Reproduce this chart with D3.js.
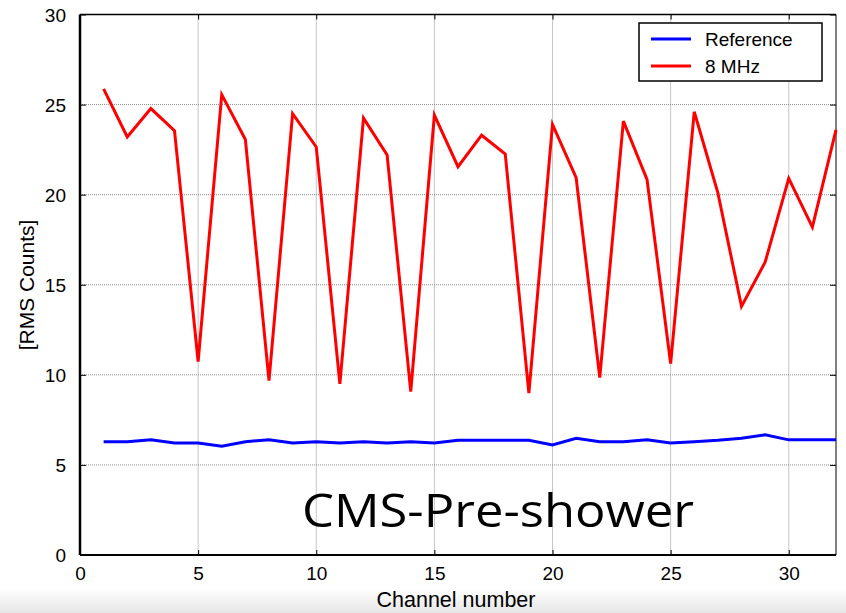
<!DOCTYPE html>
<html>
<head>
<meta charset="utf-8">
<script src="https://cdn.jsdelivr.net/npm/d3@7"></script>
<style>
  body { margin: 0; background: #fff; }
  svg { display: block; font-family: Arial, "Liberation Sans", sans-serif; }
  .grid line { stroke: #8c8c8c; stroke-dasharray: 1,1; stroke-width: 1; }
  .axis text { font-size: 19px; fill: #000; }
</style>
</head>
<body>
<div id="graph"></div>
<script>
// channel numbers and RMS counts
const channels = d3.range(1, 33);
const reference = [6.29, 6.29, 6.39, 6.22, 6.22, 6.04, 6.29, 6.39, 6.22, 6.29,
	6.22, 6.29, 6.22, 6.29, 6.22, 6.37, 6.37, 6.37, 6.37, 6.11,
	6.48, 6.29, 6.29, 6.39, 6.22, 6.29, 6.37, 6.48, 6.67, 6.39,
	6.39, 6.39];
const mhz8 = [25.87, 23.2, 24.78, 23.55, 10.74, 25.55, 23.06, 9.68, 24.5, 22.65,
	9.5, 24.25, 22.2, 9.07, 24.42, 21.55, 23.3, 22.25, 8.98, 23.9,
	20.95, 9.85, 24.08, 20.85, 10.62, 24.6, 20.1, 13.8, 16.25, 20.9,
	18.2, 23.6];
const seriesNames = ["Reference", "8 MHz"];
const seriesColors = ["#0000ff", "#ff0000"];
const xTicks = [0, 5, 10, 15, 20, 25, 30];
const yTicks = [0, 5, 10, 15, 20, 25, 30];

const W = 846, H = 613;
const margin = {top: 14.5, right: 10, bottom: 58, left: 80},
	width = W - margin.left - margin.right,
	height = H - margin.top - margin.bottom;

const svg = d3.select("#graph").append("svg")
	.attr("width", W)
	.attr("height", H);

// faint grey band at the very bottom of the screenshot
const grad = svg.append("defs").append("linearGradient")
	.attr("id", "fade").attr("x1", 0).attr("x2", 0).attr("y1", 0).attr("y2", 1);
grad.append("stop").attr("offset", "0%").attr("stop-color", "#ffffff");
grad.append("stop").attr("offset", "100%").attr("stop-color", "#e6e6e6");
svg.append("rect").attr("x", 0).attr("y", 588).attr("width", W).attr("height", 25)
	.attr("fill", "url(#fade)");

const g = svg.append("g")
	.attr("transform", "translate(" + margin.left + "," + margin.top + ")");

const xScale = d3.scaleLinear().domain([0, 32]).range([0, width]);
const yScale = d3.scaleLinear().domain([0, 30]).range([height, 0]);

// grid
g.append("g").attr("class", "grid")
	.selectAll("line").data(xTicks.filter(d => d > 0))
	.enter().append("line")
	.attr("x1", d => xScale(d)).attr("x2", d => xScale(d))
	.attr("y1", 0).attr("y2", height);
g.append("g").attr("class", "grid")
	.selectAll("line").data(yTicks.filter(d => d > 0 && d < 30))
	.enter().append("line")
	.attr("x1", 0).attr("x2", width)
	.attr("y1", d => yScale(d)).attr("y2", d => yScale(d));

// axes with inward ticks
g.append("g").attr("class", "axis")
	.attr("transform", "translate(0," + height + ")")
	.call(d3.axisBottom(xScale).tickValues(xTicks).tickSizeInner(-5).tickSizeOuter(0).tickPadding(12))
	.call(a => a.select(".domain").remove());
g.append("g").attr("class", "axis")
	.call(d3.axisLeft(yScale).tickValues(yTicks).tickSizeInner(-6).tickSizeOuter(0).tickPadding(14))
	.call(a => a.select(".domain").remove())
	.selectAll("text").attr("dy", "0.36em");
g.append("g")
	.attr("transform", "translate(" + width + ",0)")
	.call(d3.axisRight(yScale).tickValues(yTicks).tickSizeInner(-6).tickSizeOuter(0).tickFormat(""))
	.call(a => a.select(".domain").remove());
g.append("g")
	.call(d3.axisTop(xScale).tickValues(xTicks).tickSizeInner(-5).tickSizeOuter(0).tickFormat(""))
	.call(a => a.select(".domain").remove());

// frame
g.append("line").attr("x1", 0).attr("x2", width).attr("y1", 0).attr("y2", 0)
	.attr("stroke", "#000").attr("stroke-width", 1.5);
g.append("line").attr("x1", width).attr("x2", width).attr("y1", 0).attr("y2", height)
	.attr("stroke", "#000").attr("stroke-width", 1);
g.append("line").attr("x1", 0).attr("x2", width).attr("y1", height).attr("y2", height)
	.attr("stroke", "#000").attr("stroke-width", 2);
g.append("line").attr("x1", 0).attr("x2", 0).attr("y1", 0).attr("y2", height)
	.attr("stroke", "#000").attr("stroke-width", 2.5);

// series
const line = d3.line()
	.x((d, i) => xScale(channels[i]))
	.y(d => yScale(d));

[reference, mhz8].forEach((s, k) => {
	g.append("path")
		.datum(s)
		.attr("fill", "none")
		.attr("stroke", seriesColors[k])
		.attr("stroke-width", 3)
		.attr("stroke-linejoin", "miter")
		.attr("d", line);
});

// legend
const legend = svg.append("g").attr("transform", "translate(639,23)");
legend.append("rect")
	.attr("width", 183).attr("height", 58)
	.attr("fill", "#fff").attr("stroke", "#000").attr("stroke-width", 1.5);
seriesNames.forEach((name, k) => {
	legend.append("line")
		.attr("x1", 12).attr("x2", 52)
		.attr("y1", 16 + k * 27).attr("y2", 16 + k * 27)
		.attr("stroke", seriesColors[k]).attr("stroke-width", 3);
	legend.append("text")
		.attr("x", 66).attr("y", 23 + k * 27)
		.style("font-size", "19px")
		.text(name);
});

// titles
svg.append("text")
	.attr("transform", "rotate(-90)")
	.attr("x", -285)
	.attr("y", 34)
	.style("text-anchor", "middle")
	.style("font-size", "21px")
	.text("[RMS Counts]");

svg.append("text")
	.attr("x", 456)
	.attr("y", 607)
	.style("text-anchor", "middle")
	.style("font-size", "21.5px")
	.text("Channel number");

svg.append("text")
	.attr("x", 302)
	.attr("y", 527)
	.style("font-family", "'Open Sans', 'Noto Sans', sans-serif")
	.style("font-size", "46px")
	.attr("textLength", 392)
	.attr("lengthAdjust", "spacingAndGlyphs")
	.text("CMS-Pre-shower");
</script>
</body>
</html>
